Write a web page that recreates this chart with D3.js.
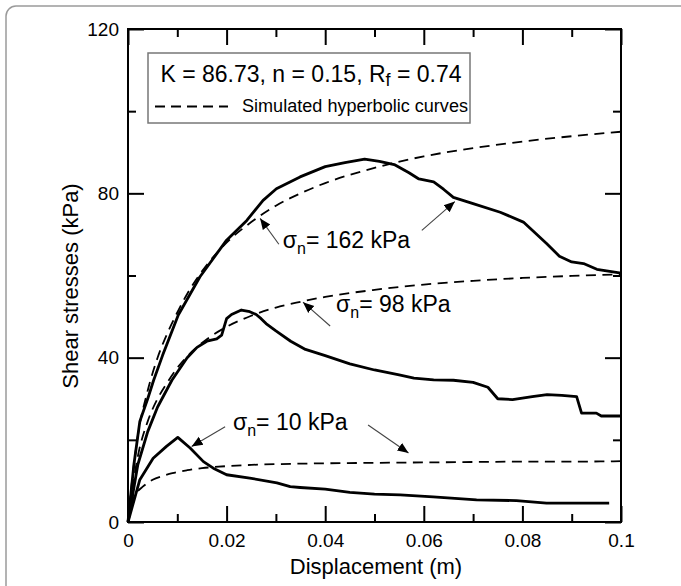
<!DOCTYPE html>
<html><head><meta charset="utf-8">
<script src="https://cdn.jsdelivr.net/npm/d3@7"></script>
<style>body{margin:0;background:#fff;} svg{display:block;font-family:"Liberation Sans",Arial,sans-serif;}</style>
</head><body><svg id="c" width="681" height="586"></svg>
<script>
// ---- data (displacement m, shear stress kPa) ----
const solid162 = [[0,0],[0.0012,14],[0.0024,24.5],[0.004,30],[0.0052,34.5],[0.007,40.5],[0.0102,50.4],[0.0146,59.7],[0.02,68.6],[0.0241,73.4],[0.0274,78.3],[0.0301,81.1],[0.0349,84],[0.04,86.5],[0.044,87.5],[0.048,88.3],[0.051,87.8],[0.054,87],[0.057,85],[0.059,83.5],[0.062,82.8],[0.064,81],[0.066,79],[0.07,77.5],[0.0755,75.4],[0.0802,73],[0.0849,67.8],[0.0875,64.7],[0.09,63.3],[0.0924,62.9],[0.0951,61.5],[0.1,60.6]];
const solid98 = [[0,0],[0.002,14],[0.004,22],[0.006,28],[0.0089,34.5],[0.012,40],[0.014,42.5],[0.016,44],[0.018,44.6],[0.019,45.5],[0.02,49.5],[0.021,50.5],[0.023,51.6],[0.0247,51.2],[0.026,50.5],[0.027,49.5],[0.028,48.3],[0.03,46.5],[0.033,44],[0.036,42],[0.04,40.5],[0.045,38.5],[0.05,37],[0.055,35.8],[0.058,35],[0.062,34.6],[0.066,34.5],[0.07,34],[0.073,32.8],[0.075,30],[0.078,29.8],[0.082,30.5],[0.085,31],[0.088,30.8],[0.091,30.5],[0.092,26.5],[0.095,26.5],[0.096,25.8],[0.1,25.8]];
const solid10 = [[0,0],[0.0024,10.3],[0.0051,15.5],[0.0078,18.4],[0.0101,20.6],[0.0126,18],[0.0153,14.7],[0.0173,13.1],[0.02,11.5],[0.0247,10.7],[0.0302,9.5],[0.0329,8.6],[0.0349,8.4],[0.04,8],[0.045,7.2],[0.05,6.8],[0.0552,6.6],[0.0619,6.1],[0.0707,5.4],[0.0788,5.2],[0.0849,4.6],[0.0976,4.6]];
const dash162 = [[0,0],[0.001,12],[0.002,21],[0.004,32],[0.006,40],[0.008,46],[0.01,51],[0.012,55.5],[0.015,61],[0.02,68],[0.025,73],[0.03,77],[0.035,80],[0.04,82.5],[0.05,86.2],[0.06,89],[0.07,91],[0.08,92.6],[0.09,93.9],[0.1,95]];
const dash98 = [[0,0],[0.001,9],[0.002,16],[0.004,24.5],[0.006,30],[0.008,34],[0.01,37.5],[0.013,41.5],[0.016,44.5],[0.02,47.5],[0.025,50.2],[0.03,52.2],[0.035,53.6],[0.04,54.8],[0.05,56.5],[0.06,57.8],[0.07,58.7],[0.08,59.4],[0.09,59.9],[0.1,60.3]];
const dash10 = [[0,0],[0.0005,3.5],[0.001,5.5],[0.002,7.5],[0.003,8.6],[0.005,10.3],[0.007,11.2],[0.009,11.9],[0.012,12.6],[0.015,13.1],[0.02,13.6],[0.025,13.9],[0.035,14.2],[0.05,14.4],[0.06,14.5],[0.07,14.6],[0.08,14.7],[0.09,14.7],[0.1,14.8]];
const xMajor = [0,0.02,0.04,0.06,0.08,0.1];
const xMinor = [0.01,0.03,0.05,0.07,0.09];
const xLabels = ["0","0.02","0.04","0.06","0.08","0.1"];
const yMajor = [0,40,80,120];
const yMinor = [20,60,100];
const yLabels = ["0","40","80","120"];
const legendTitle = ["K = 86.73, n = 0.15, R","f"," = 0.74"];
const legendDash = "Simulated hyperbolic curves";
const annotations = [
  {sigma:"162", text:[0.0314,66.6], arrows:[[[0.0306,67.6],[0.0268,73.9]],[[0.0596,71],[0.0663,78]]]},
  {sigma:"98", text:[0.0422,51.1], arrows:[[[0.041,47.7],[0.0355,53.5]]]},
  {sigma:"10", text:[0.0213,22.4], arrows:[[[0.0197,23.2],[0.0129,18.4]],[[0.0487,23.6],[0.0569,16.8]]]}
];

const svg = d3.select("#c");
const L=128, R=621, T=29, B=522;
const x = d3.scaleLinear().domain([0,0.1]).range([L,R]);
const y = d3.scaleLinear().domain([0,120]).range([B,T]);

// outer rounded border
svg.append("rect").attr("x",6).attr("y",6).attr("width",720).attr("height",620).attr("rx",10)
  .attr("fill","none").attr("stroke","#9a9a9a").attr("stroke-width",1.5);

const defs = svg.append("defs");
defs.append("marker").attr("id","ah").attr("viewBox","0 0 10 10").attr("refX",10).attr("refY",5)
  .attr("markerWidth",11).attr("markerHeight",11).attr("markerUnits","userSpaceOnUse").attr("orient","auto")
  .append("path").attr("d","M0,0.8L10,5L0,9.2Z").attr("fill","#000");

const fmtX = d => xLabels[xMajor.indexOf(d)];
const fmtY = d => yLabels[yMajor.indexOf(d)];
function styleAxis(g){ g.select(".domain").remove(); g.selectAll(".tick line").attr("stroke","#000").attr("stroke-width",2);
  g.selectAll("text").attr("fill","#000").style("font-size","19px"); }

svg.append("g").attr("transform",`translate(0,${B})`).call(d3.axisBottom(x).tickValues(xMajor).tickFormat(fmtX).tickSize(-16).tickPadding(12)).call(styleAxis);
svg.append("g").attr("transform",`translate(0,${B})`).call(d3.axisBottom(x).tickValues(xMinor).tickFormat("").tickSize(-8)).call(styleAxis);
svg.append("g").attr("transform",`translate(0,${T})`).call(d3.axisTop(x).tickValues(xMajor).tickFormat("").tickSize(-16)).call(styleAxis);
svg.append("g").attr("transform",`translate(0,${T})`).call(d3.axisTop(x).tickValues(xMinor).tickFormat("").tickSize(-8)).call(styleAxis);
svg.append("g").attr("transform",`translate(${L},0)`).call(d3.axisLeft(y).tickValues(yMajor).tickFormat(fmtY).tickSize(-16).tickPadding(9)).call(styleAxis);
svg.append("g").attr("transform",`translate(${L},0)`).call(d3.axisLeft(y).tickValues(yMinor).tickFormat("").tickSize(-8)).call(styleAxis);
svg.append("g").attr("transform",`translate(${R},0)`).call(d3.axisRight(y).tickValues(yMajor).tickFormat("").tickSize(-16)).call(styleAxis);
svg.append("g").attr("transform",`translate(${R},0)`).call(d3.axisRight(y).tickValues(yMinor).tickFormat("").tickSize(-8)).call(styleAxis);

// frame
svg.append("rect").attr("x",L).attr("y",T).attr("width",R-L).attr("height",B-T).attr("fill","none").attr("stroke","#000").attr("stroke-width",2);

// axis titles
svg.append("text").attr("x",376).attr("y",574).attr("text-anchor","middle").style("font-size","22px").text("Displacement (m)");
svg.append("text").attr("transform","translate(78,286) rotate(-90)").attr("text-anchor","middle").style("font-size","22px").text("Shear stresses (kPa)");

// curves
const lineS = d3.line().x(d=>x(d[0])).y(d=>y(d[1]));
const lineD = d3.line().x(d=>x(d[0])).y(d=>y(d[1])).curve(d3.curveMonotoneX);
[dash162,dash98,dash10].forEach(s=>svg.append("path").attr("d",lineD(s)).attr("fill","none").attr("stroke","#000").attr("stroke-width",1.8).attr("stroke-dasharray","10,6.5"));
[solid162,solid98,solid10].forEach(s=>svg.append("path").attr("d",lineS(s)).attr("fill","none").attr("stroke","#000").attr("stroke-width",2.8).attr("stroke-linejoin","round"));

// legend
svg.append("rect").attr("x",148).attr("y",53).attr("width",322).attr("height",70).attr("fill","#fff").attr("stroke","#777").attr("stroke-width",1.5);
const lt = svg.append("text").attr("x",311).attr("y",82).attr("text-anchor","middle").style("font-size","23px");
lt.append("tspan").text(legendTitle[0]);
lt.append("tspan").attr("dy",4).style("font-size","18px").text(legendTitle[1]);
lt.append("tspan").attr("dy",-4).text(legendTitle[2]);
svg.append("line").attr("x1",155).attr("x2",228).attr("y1",106.5).attr("y2",106.5).attr("stroke","#000").attr("stroke-width",1.8).attr("stroke-dasharray","10,6");
svg.append("text").attr("x",242).attr("y",112).style("font-size","17.5px").attr("textLength",226).attr("lengthAdjust","spacingAndGlyphs").text(legendDash);

// annotations
annotations.forEach(a=>{
  a.arrows.forEach(ar=>svg.append("line").attr("x1",x(ar[0][0])).attr("y1",y(ar[0][1])).attr("x2",x(ar[1][0])).attr("y2",y(ar[1][1]))
    .attr("stroke","#444").attr("stroke-width",1.1).attr("marker-end","url(#ah)"));
  const t = svg.append("text").attr("x",x(a.text[0])).attr("y",y(a.text[1])).style("font-size","23px");
  t.append("tspan").text("σ");
  t.append("tspan").attr("dy",6).style("font-size","16px").text("n");
  t.append("tspan").attr("dy",-6).text("= "+a.sigma+" kPa");
});
</script></body></html>
